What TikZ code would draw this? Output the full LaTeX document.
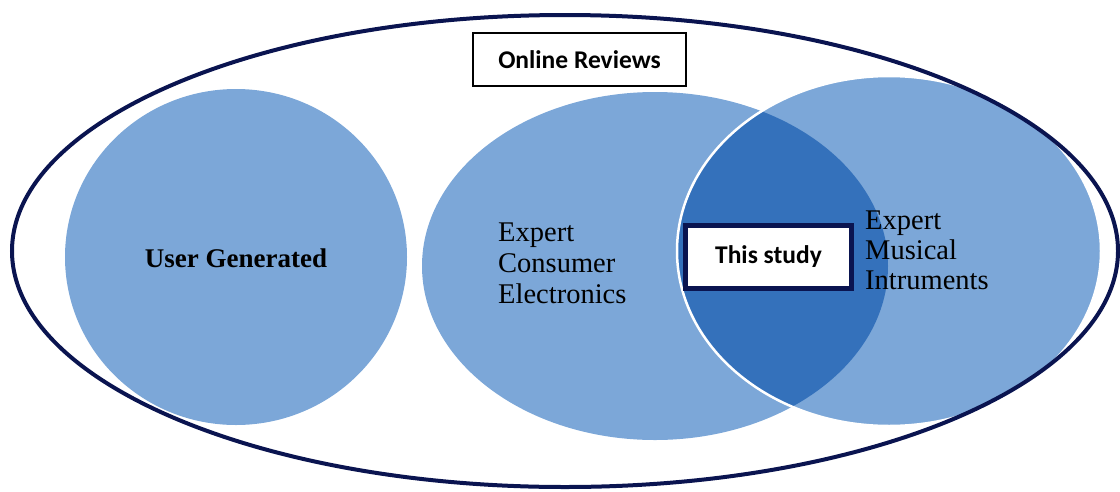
\documentclass[tikz,border=0pt]{standalone}
\usepackage{fontspec}
\setmainfont{Liberation Serif}
\newfontfamily\labelsans{Carlito}
\definecolor{setblue}{RGB}{124,167,216}
\definecolor{overlapblue}{RGB}{52,113,187}
\definecolor{navy}{RGB}{10,20,80}
\begin{document}
\begin{tikzpicture}[x=1pt,y=-1pt,
  seriflabel/.style={font=\fontsize{28.5}{31}\selectfont, inner sep=0pt, align=left},
  boxlabel/.style={font=\labelsans\bfseries\fontsize{25.5}{30}\selectfont, fill=white, inner sep=0pt}]
\useasboundingbox (0,0) rectangle (1120,491);

% the three sets
\fill[setblue] (236,257) ellipse [x radius=171, y radius=168];
\fill[setblue] (655,266) ellipse [x radius=233, y radius=174];
\fill[setblue] (889,251) ellipse [x radius=212, y radius=175];
% common part of the two expert sets
\begin{scope}
  \clip (655,266) ellipse [x radius=233, y radius=174];
  \fill[overlapblue] (889,251) ellipse [x radius=212, y radius=175];
\end{scope}
\draw[white, line width=2.5pt] (889,251) ellipse [x radius=212, y radius=175];

% enclosing set of all online reviews
\draw[navy, line width=4pt] (565,251) ellipse [x radius=553, y radius=236];

% title box
\node[boxlabel, draw=black, line width=1.5pt, minimum width=213pt, minimum height=53pt]
  (title) at (579.5,59.5) {Online Reviews};

% set labels
\node[seriflabel, font=\bfseries\fontsize{27}{31}\selectfont] (user) at (236,258) {User Generated};
\node[seriflabel, anchor=north west] (consumer) at (498,223)
  {Expert\\Consumer\\Electronics};
\node[seriflabel, anchor=north west, font=\fontsize{28.5}{30}\selectfont] (musical) at (865,211)
  {Expert\\Musical\\Intruments};

% highlighted intersection
\node[boxlabel, draw=navy, line width=5pt, minimum width=166pt, minimum height=63pt]
  (study) at (768.5,257) {This study};
\end{tikzpicture}
\end{document}
